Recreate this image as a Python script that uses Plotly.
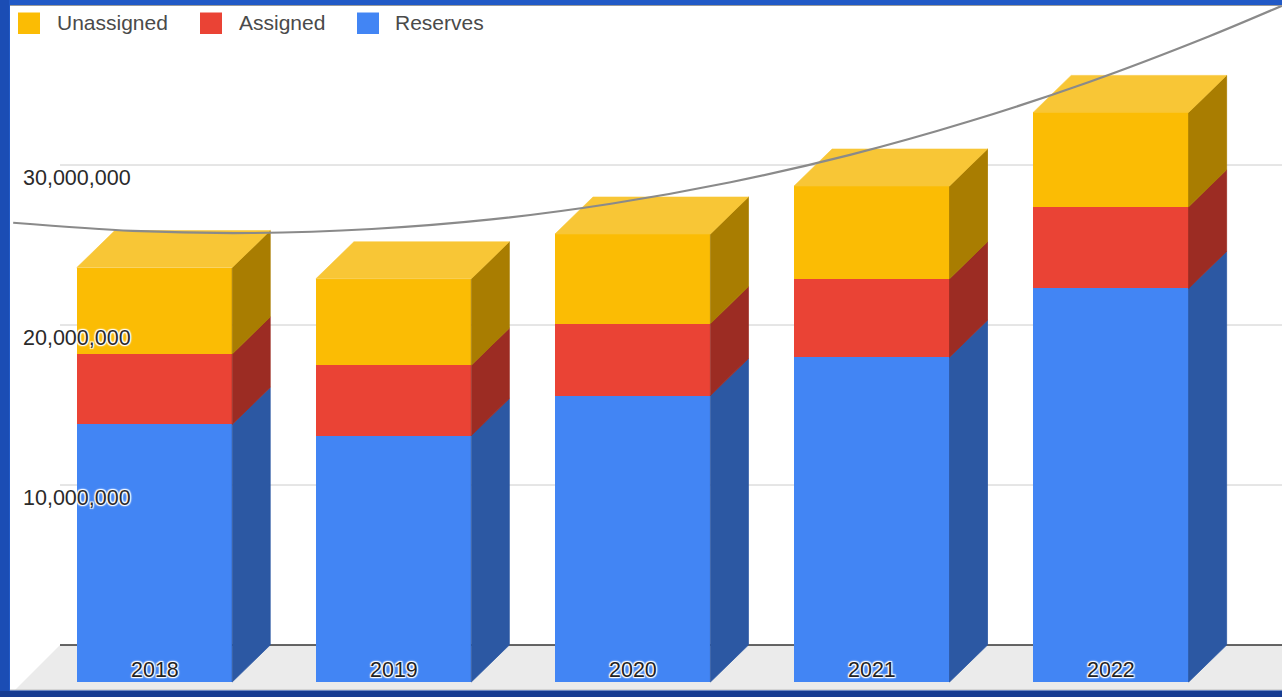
import plotly.graph_objects as go

# ---- data -------------------------------------------------------------
YEARS = ["2018", "2019", "2020", "2021", "2022"]
RESERVES = [16_100_000, 15_400_000, 17_900_000, 20_300_000, 24_600_000]
ASSIGNED = [4_400_000, 4_400_000, 4_500_000, 4_900_000, 5_100_000]
UNASSIGNED = [5_400_000, 5_400_000, 5_600_000, 5_800_000, 5_900_000]
TICK_VALUES = [10_000_000, 20_000_000, 30_000_000]

# trend curve (category position, value) on the back wall
TREND_X = [-0.75, -0.25, 0.25, 0.75, 1.25, 1.75, 2.25, 2.75, 3.25, 3.75,
           4.25, 4.6]
TREND_Y = [26_390_000, 25_880_000, 25_750_000, 26_000_000, 26_600_000,
           27_580_000, 28_920_000, 30_630_000, 32_730_000, 35_190_000,
           38_030_000, 40_230_000]

SERIES = [
    # name, values, front, top, side
    ("Reserves", RESERVES, "#4285f4", "#5b97f6", "#2c58a3"),
    ("Assigned", ASSIGNED, "#ea4335", "#ee6458", "#9c2c23"),
    ("Unassigned", UNASSIGNED, "#fbbc04", "#f8c636", "#a97d01"),
]

# ---- geometry ---------------------------------------------------------
W, H = 1282, 697
PLOT_L, PLOT_T, PLOT_B = 10, 5, 690
CAT_PX = 239.1          # pixels per category step
CAT0_PX = 154.5         # pixel x of first category centre
Y_PX_PER_UNIT = 16 / 1_000_000
ZERO_PX = 682           # pixel y of the front zero line

X_RANGE = [(PLOT_L - CAT0_PX) / CAT_PX, (W - CAT0_PX) / CAT_PX]
Y_RANGE = [-(PLOT_B - ZERO_PX) / Y_PX_PER_UNIT, (ZERO_PX - PLOT_T) / Y_PX_PER_UNIT]

BAR_W = 0.65
DEPTH_X = 38 / CAT_PX
DEPTH_Y = 37 / Y_PX_PER_UNIT
WALL_X = (60 - CAT0_PX) / CAT_PX
FLOOR_FRONT_X = (15 - CAT0_PX) / CAT_PX

FONT = "Arial, 'Liberation Sans', sans-serif"
HALO = ("1px 1px 1px #fff, -1px -1px 1px #fff, 1px -1px 1px #fff, "
        "-1px 1px 1px #fff, 0 0 3px #fff")


def px_x(p):
    return p / W


def px_y(p):
    return 1 - p / H


xs = list(range(len(YEARS)))
fig = go.Figure()

# front faces
for name, vals, front, _top, _side in SERIES:
    fig.add_trace(go.Bar(x=xs, y=vals, width=BAR_W, name=name,
                         marker=dict(color=front, line=dict(width=0)),
                         showlegend=False, hoverinfo="skip"))

# side faces and top faces
bases = [0] * len(YEARS)
tops_total = [r + a + u for r, a, u in zip(RESERVES, ASSIGNED, UNASSIGNED)]
for k, (name, vals, front, top_c, side_c) in enumerate(SERIES):
    sx, sy = [], []
    for i, v in enumerate(vals):
        xr = i + BAR_W / 2
        b, t = bases[i], bases[i] + v
        sx += [xr, xr + DEPTH_X, xr + DEPTH_X, xr, xr, None]
        sy += [b, b + DEPTH_Y, t + DEPTH_Y, t, b, None]
        bases[i] = t
    fig.add_trace(go.Scatter(x=sx, y=sy, mode="lines", fill="toself",
                             fillcolor=side_c, line=dict(width=0.8, color=side_c),
                             showlegend=False, hoverinfo="skip"))
    if k == len(SERIES) - 1:
        tx, ty = [], []
        for i, t in enumerate(tops_total):
            xl, xr = i - BAR_W / 2, i + BAR_W / 2
            tx += [xl, xr, xr + DEPTH_X, xl + DEPTH_X, xl, None]
            ty += [t, t, t + DEPTH_Y, t + DEPTH_Y, t, None]
        fig.add_trace(go.Scatter(x=tx, y=ty, mode="lines", fill="toself",
                                 fillcolor=top_c, line=dict(width=0.6, color=top_c),
                                 showlegend=False, hoverinfo="skip"))

# trend curve on the back wall
fig.add_trace(go.Scatter(x=[x + DEPTH_X for x in TREND_X],
                         y=[y + DEPTH_Y for y in TREND_Y],
                         mode="lines", line=dict(color="#8a8a8a", width=2.2,
                                                 shape="spline", smoothing=0.9),
                         showlegend=False, hoverinfo="skip"))

shapes = []
# floor
shapes.append(dict(type="path", xref="x", yref="y", layer="below",
                   path=(f"M{FLOOR_FRONT_X},{Y_RANGE[0]} L{X_RANGE[1]},{Y_RANGE[0]} "
                         f"L{X_RANGE[1]},{DEPTH_Y} L{WALL_X},{DEPTH_Y} Z"),
                   fillcolor="#ebebeb", line=dict(width=0)))
# gridlines on the back wall
for v in TICK_VALUES:
    shapes.append(dict(type="line", xref="x", yref="y", layer="below",
                       x0=WALL_X, x1=X_RANGE[1], y0=v + DEPTH_Y, y1=v + DEPTH_Y,
                       line=dict(color="#cccccc", width=1)))
shapes.append(dict(type="line", xref="x", yref="y", layer="below",
                   x0=WALL_X, x1=X_RANGE[1], y0=DEPTH_Y, y1=DEPTH_Y,
                   line=dict(color="#333333", width=1.5)))
# frame edges
shapes.append(dict(type="rect", xref="paper", yref="paper", layer="above",
                   x0=0, x1=px_x(9), y0=0, y1=1, fillcolor="#1b4db4",
                   line=dict(width=0)))
shapes.append(dict(type="rect", xref="paper", yref="paper", layer="above",
                   x0=0, x1=1, y0=0, y1=px_y(691), fillcolor="#173d92",
                   line=dict(width=0)))
shapes.append(dict(type="line", xref="paper", yref="paper", layer="above",
                   x0=px_x(PLOT_L), x1=1, y0=px_y(690), y1=px_y(690),
                   line=dict(color="#bdbdbd", width=1)))
shapes.append(dict(type="line", xref="paper", yref="paper", layer="above",
                   x0=px_x(PLOT_L), x1=1, y0=px_y(5.5), y1=px_y(5.5),
                   line=dict(color="#9a9a9a", width=1)))

annotations = []
# legend
legend_items = [("Unassigned", "#fbbc04", 18, 55),
                ("Assigned", "#ea4335", 200, 237),
                ("Reserves", "#4285f4", 357, 393)]
for label, color, sq_x, tx_x in legend_items:
    shapes.append(dict(type="rect", xref="paper", yref="paper", layer="above",
                       x0=px_x(sq_x), x1=px_x(sq_x + 22),
                       y0=px_y(34), y1=px_y(12.5),
                       fillcolor=color, line=dict(width=0)))
    annotations.append(dict(xref="paper", yref="paper", x=px_x(tx_x), y=px_y(22),
                            xanchor="left", yanchor="middle", showarrow=False,
                            text=label,
                            font=dict(family=FONT, size=21, color="#4a4a4a")))

# value labels
for v in TICK_VALUES:
    annotations.append(dict(xref="paper", yref="y", x=px_x(21), y=v + DEPTH_Y,
                            yshift=-13, xanchor="left", yanchor="middle",
                            showarrow=False, text=f"{v:,}",
                            font=dict(family=FONT, size=21.5, color="#2a2a2a",
                                      shadow=HALO)))
# category labels
for i, yr in enumerate(YEARS):
    annotations.append(dict(xref="x", yref="y", x=i, y=0, yshift=12,
                            xanchor="center", yanchor="middle", showarrow=False,
                            text=yr,
                            font=dict(family=FONT, size=21.5, color="#222222",
                                      shadow=HALO)))

fig.update_layout(
    width=W, height=H,
    margin=dict(l=0, r=0, t=0, b=0),
    paper_bgcolor="#2159c6",
    plot_bgcolor="#ffffff",
    barmode="stack",
    bargap=0,
    xaxis=dict(range=X_RANGE, domain=[px_x(PLOT_L), 1], visible=False,
               fixedrange=True),
    yaxis=dict(range=Y_RANGE, domain=[px_y(PLOT_B), px_y(PLOT_T)],
               visible=False, fixedrange=True),
    shapes=shapes,
    annotations=annotations,
    showlegend=False,
)

fig.write_html("out.html", config=dict(displayModeBar=False))
